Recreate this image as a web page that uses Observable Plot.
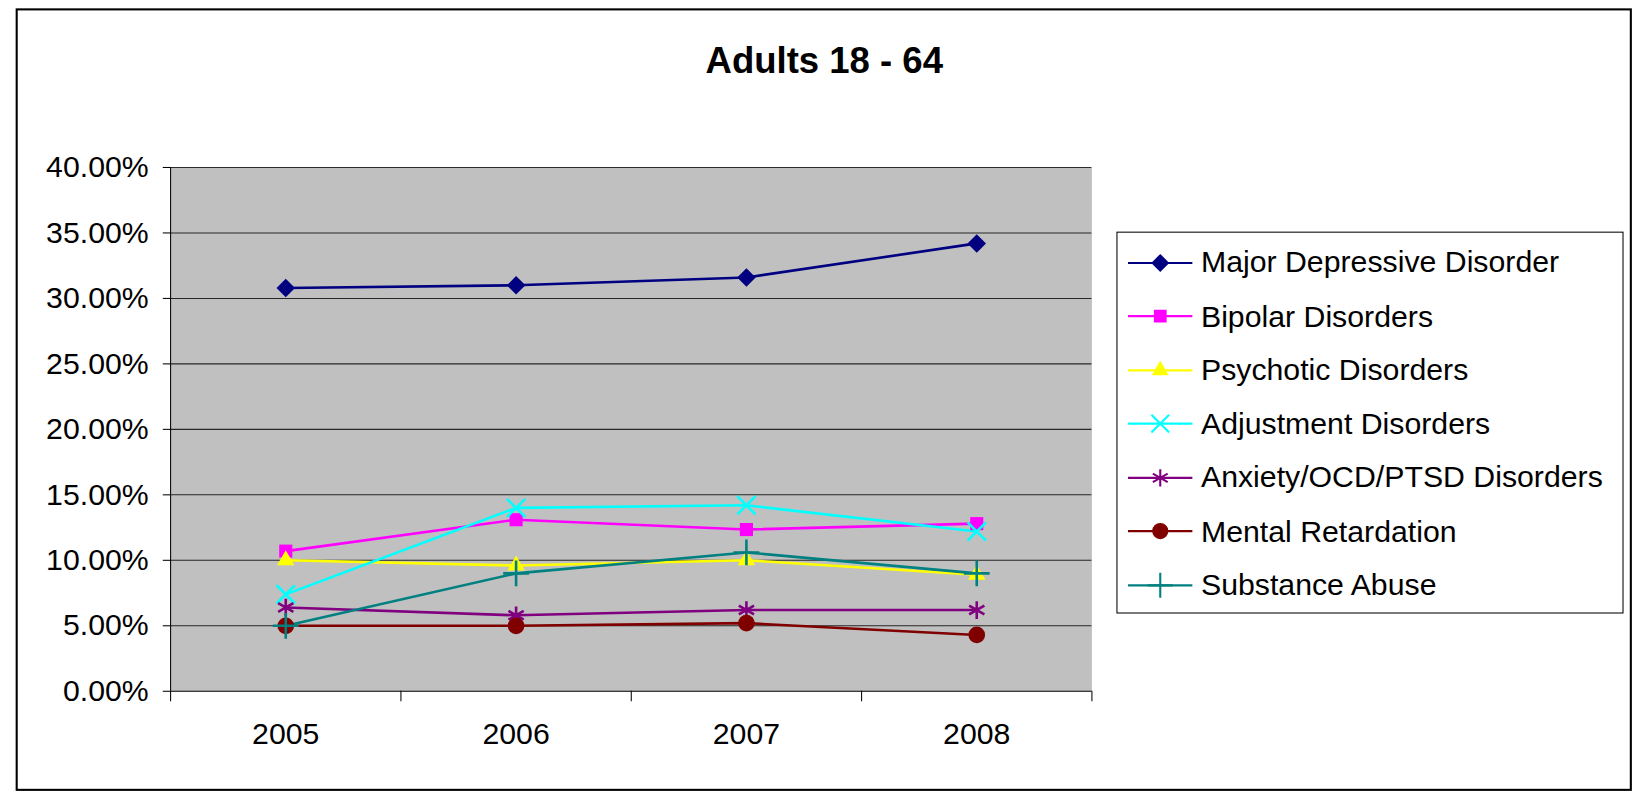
<!DOCTYPE html>
<html><head><meta charset="utf-8">
<script src="https://cdn.jsdelivr.net/npm/d3@7"></script>
<script src="https://cdn.jsdelivr.net/npm/@observablehq/plot@0.6"></script>
<style>
body{margin:0;background:#fff;font-family:Arial,"Liberation Sans",sans-serif;overflow:hidden}
#wrap{position:absolute;left:0;top:0;width:1568px;height:758px;transform:scale(1.0434);transform-origin:0 0}
#box{position:absolute;left:15px;top:8px;width:1549px;height:750px;border:2px solid #000;box-sizing:border-box}
#title{position:absolute;left:0;width:1580px;top:38px;text-align:center;font-weight:bold;font-size:35px}
#chart{position:absolute;left:0;top:0}
#legend{position:absolute;left:1070px;top:222px;width:486px;height:366px;border:1px solid #000;box-sizing:border-box;background:#fff}
.li{position:absolute;left:10px;font-size:29px;display:flex;align-items:center}
.li span{margin-left:8px}
</style></head><body>
<div id="wrap">
<div id="box"></div>
<div id="title">Adults 18 - 64</div>
<div id="chart"></div>
<div id="legend"></div>
</div>
<script>
const years = [2005, 2006, 2007, 2008];
const seriesNames = ["Major Depressive Disorder","Bipolar Disorders","Psychotic Disorders","Adjustment Disorders","Anxiety/OCD/PTSD Disorders","Mental Retardation","Substance Abuse"];
const majorDepressive = [30.8, 31.0, 31.6, 34.2];
const bipolar = [10.7, 13.1, 12.35, 12.8];
const psychotic = [10.0, 9.6, 10.0, 8.9];
const adjustment = [7.4, 14.0, 14.2, 12.2];
const anxiety = [6.4, 5.8, 6.2, 6.2];
const retardation = [5.0, 5.0, 5.2, 4.3];
const substance = [5.0, 9.0, 10.6, 9.0];
const allValues = [majorDepressive, bipolar, psychotic, adjustment, anxiety, retardation, substance];
const colors = ["#000080","#FF00FF","#FFFF00","#00FFFF","#800080","#800000","#008080"];
const symbols = ["diamond2","square2","triangle2","times","asterisk","circle","plus"];
const filled = [true,true,true,false,false,true,false];
const boundaries = [2004.5, 2005.5, 2006.5, 2007.5, 2008.5];

const data = [];
allValues.forEach((vals, i) => vals.forEach((v, j) => data.push({series: seriesNames[i], year: years[j], value: v / 100, i})));

const chart = Plot.plot({
  width: 1060, height: 760,
  marginLeft: 163, marginRight: 14, marginTop: 160, marginBottom: 98,
  style: {fontFamily: "Arial, 'Liberation Sans', sans-serif", fontSize: "29px", background: "transparent", color: "#000"},
  x: {domain: [2004.5, 2008.5], ticks: years, tickFormat: d => String(d), tickSize: 0, tickPadding: 30, label: null},
  y: {domain: [0, 0.4], ticks: d3.range(0, 0.41, 0.05), tickFormat: d => (d * 100).toFixed(2) + "%", tickSize: 7, tickPadding: 14, label: null},
  marks: [
    Plot.frame({fill: "#C0C0C0"}),
    Plot.gridY({ticks: d3.range(0.05, 0.41, 0.05), stroke: "#000", strokeOpacity: 0.8, strokeWidth: 1}),
    Plot.ruleX(boundaries, {x: d => d, y1: 0, y2: -0.008, stroke: "#000", clip: false}),
    Plot.line(data, {x: "year", y: "value", z: "series", stroke: d => colors[d.i], strokeWidth: 2.5}),
    Plot.dot(data, {x: "year", y: "value", symbol: d => symbols[d.i], r: 8,
      fill: d => filled[d.i] ? colors[d.i] : "none", stroke: d => colors[d.i], strokeWidth: d => filled[d.i] ? 0 : 2.5}),
    Plot.ruleX([2004.5], {stroke: "#000"}),
    Plot.ruleY([0], {stroke: "#000"})
  ]
});
document.getElementById("chart").append(chart);

const legend = d3.select("#legend");
seriesNames.forEach((name, i) => {
  const row = legend.append("div").attr("class", "li").style("top", (12 + i * 51.5) + "px");
  const svg = row.append("svg").attr("width", 62).attr("height", 26);
  svg.append("line").attr("x1", 0).attr("x2", 62).attr("y1", 13).attr("y2", 13).attr("stroke", colors[i]).attr("stroke-width", 2);
  const sym = {diamond2: d3.symbolDiamond2, square2: d3.symbolSquare2, triangle2: d3.symbolTriangle2, times: d3.symbolTimes, asterisk: d3.symbolAsterisk, circle: d3.symbolCircle, plus: d3.symbolPlus}[symbols[i]];
  svg.append("path").attr("d", d3.symbol(sym, 190)()).attr("transform", "translate(31,13)")
    .attr("fill", filled[i] ? colors[i] : "none").attr("stroke", filled[i] ? "none" : colors[i]).attr("stroke-width", 2);
  row.append("span").text(name);
});
</script>
</body></html>
